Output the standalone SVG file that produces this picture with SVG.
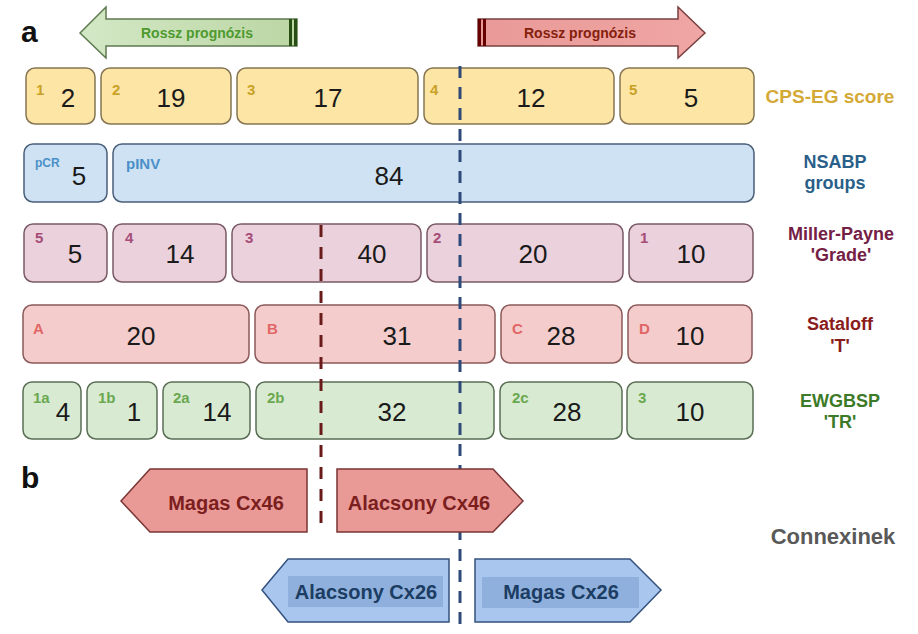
<svg xmlns="http://www.w3.org/2000/svg" width="918" height="634" viewBox="0 0 918 634">
<style>
text{font-family:"Liberation Sans",Arial,sans-serif}
.num{font-size:26px;fill:#1a1a1a;text-anchor:middle}
.sm{font-size:15px;font-weight:bold}
.lab{font-size:18px;font-weight:bold;text-anchor:middle}
.y rect{fill:#fde5a5;stroke:#857552;stroke-width:1.5}
.bl rect{fill:#cfe2f3;stroke:#4a5f7a;stroke-width:1.5}
.pk rect{fill:#ead1dc;stroke:#7a5a65;stroke-width:1.5}
.rd rect{fill:#f4cccc;stroke:#8a5a5a;stroke-width:1.5}
.gr rect{fill:#d9ead3;stroke:#5a6e55;stroke-width:1.5}
.y .sm{fill:#c9a227}.bl .sm{fill:#4a90c8}.pk .sm{fill:#a64d79}.rd .sm{fill:#e06666}.gr .sm{fill:#6aa84f}
.ar{font-size:20px;font-weight:bold;text-anchor:middle}
.cx46{fill:#ea9a96;stroke:#7a3535;stroke-width:1.5}
.cx26{fill:#a8c6ee;stroke:#34527e;stroke-width:1.5}
.inner{fill:#8fb0dc}
</style>
<defs>
<linearGradient id="gG" x1="0" y1="0" x2="1" y2="0">
<stop offset="0" stop-color="#d3e8c6"/><stop offset="1" stop-color="#bcd6a4"/>
</linearGradient>
<linearGradient id="gR" x1="0" y1="0" x2="1" y2="0">
<stop offset="0" stop-color="#e99a98"/><stop offset="1" stop-color="#efa6a4"/>
</linearGradient>
</defs>

<text x="21" y="42" style="font-size:30px;font-weight:bold;fill:#111">a</text>
<text x="21" y="488" style="font-size:30px;font-weight:bold;fill:#111">b</text>

<g id="arrow-green">
<polygon points="80,33 106,7 106,19 297,19 297,46 106,46 106,58" fill="url(#gG)" stroke="#5d7a4f" stroke-width="1.5"/>
<rect x="289" y="19" width="3" height="27" fill="#274e13"/>
<rect x="294" y="19" width="3" height="27" fill="#274e13"/>
<text x="197" y="38" style="font-size:14px;font-weight:bold;fill:#4e9a2e;text-anchor:middle">Rossz prognózis</text>
</g>
<g id="arrow-red">
<polygon points="478,19 678,19 678,7 705,33 678,58 678,46 478,46" fill="url(#gR)" stroke="#7a4040" stroke-width="1.5"/>
<rect x="478" y="19" width="3" height="27" fill="#660000"/>
<rect x="483" y="19" width="3" height="27" fill="#660000"/>
<text x="580" y="38" style="font-size:14px;font-weight:bold;fill:#85200c;text-anchor:middle">Rossz prognózis</text>
</g>

<g id="row-cpseg" class="y">
<rect x="26" y="68" width="69" height="56" rx="9"/>
<rect x="101" y="68" width="130" height="56" rx="9"/>
<rect x="237" y="68" width="181" height="56" rx="9"/>
<rect x="424" y="68" width="190" height="56" rx="9"/>
<rect x="620" y="68" width="134" height="56" rx="9"/>
<text class="sm" x="36" y="95">1</text><text class="num" x="68" y="107">2</text>
<text class="sm" x="112" y="95">2</text><text class="num" x="171" y="107">19</text>
<text class="sm" x="247" y="95">3</text><text class="num" x="328" y="107">17</text>
<text class="sm" x="430" y="95">4</text><text class="num" x="531" y="107">12</text>
<text class="sm" x="629" y="95">5</text><text class="num" x="691" y="107">5</text>
<text class="lab" x="830" y="103" style="font-size:19px;fill:#d4a935">CPS-EG score</text>
</g>

<g id="row-nsabp" class="bl">
<rect x="24" y="144" width="83" height="58" rx="9"/>
<rect x="113" y="144" width="641" height="58" rx="9"/>
<text class="sm" x="35" y="167" style="font-size:12px">pCR</text><text class="num" x="79" y="185">5</text>
<text class="sm" x="126" y="169" style="font-size:15px">pINV</text><text class="num" x="389" y="185">84</text>
<text class="lab" x="835" y="168" style="fill:#2a5f8a">NSABP</text>
<text class="lab" x="835" y="189" style="fill:#2a5f8a">groups</text>
</g>

<g id="row-millerpayne" class="pk">
<rect x="24" y="224" width="83" height="58" rx="9"/>
<rect x="113" y="224" width="113" height="58" rx="9"/>
<rect x="232" y="224" width="189" height="58" rx="9"/>
<rect x="427" y="224" width="196" height="58" rx="9"/>
<rect x="629" y="224" width="124" height="58" rx="9"/>
<text class="sm" x="35" y="243">5</text><text class="num" x="75" y="263">5</text>
<text class="sm" x="125" y="243">4</text><text class="num" x="180" y="263">14</text>
<text class="sm" x="245" y="243">3</text><text class="num" x="372" y="263">40</text>
<text class="sm" x="433" y="243">2</text><text class="num" x="533" y="263">20</text>
<text class="sm" x="640" y="243">1</text><text class="num" x="691" y="263">10</text>
<text class="lab" x="841" y="240" style="fill:#742046">Miller-Payne</text>
<text class="lab" x="841" y="261" style="fill:#742046">'Grade'</text>
</g>

<g id="row-sataloff" class="rd">
<rect x="23" y="305" width="226" height="58" rx="9"/>
<rect x="255" y="305" width="240" height="58" rx="9"/>
<rect x="501" y="305" width="121" height="58" rx="9"/>
<rect x="628" y="305" width="124" height="58" rx="9"/>
<text class="sm" x="33" y="334">A</text><text class="num" x="141" y="345">20</text>
<text class="sm" x="267" y="334">B</text><text class="num" x="397" y="345">31</text>
<text class="sm" x="512" y="334">C</text><text class="num" x="561" y="345">28</text>
<text class="sm" x="639" y="334">D</text><text class="num" x="690" y="345">10</text>
<text class="lab" x="840" y="330" style="fill:#8a1c1c">Sataloff</text>
<text class="lab" x="840" y="352" style="fill:#8a1c1c">'T'</text>
</g>

<g id="row-ewgbsp" class="gr">
<rect x="23" y="382" width="58" height="57" rx="9"/>
<rect x="87" y="382" width="70" height="57" rx="9"/>
<rect x="163" y="382" width="87" height="57" rx="9"/>
<rect x="256" y="382" width="238" height="57" rx="9"/>
<rect x="500" y="382" width="122" height="57" rx="9"/>
<rect x="627" y="382" width="126" height="57" rx="9"/>
<text class="sm" x="33" y="403">1a</text><text class="num" x="63" y="421">4</text>
<text class="sm" x="98" y="403">1b</text><text class="num" x="134" y="421">1</text>
<text class="sm" x="173" y="403">2a</text><text class="num" x="217" y="421">14</text>
<text class="sm" x="267" y="403">2b</text><text class="num" x="392" y="421">32</text>
<text class="sm" x="512" y="403">2c</text><text class="num" x="567" y="421">28</text>
<text class="sm" x="638" y="403">3</text><text class="num" x="690" y="421">10</text>
<text class="lab" x="840" y="407" style="fill:#3c7a28">EWGBSP</text>
<text class="lab" x="840" y="428" style="fill:#3c7a28">'TR'</text>
</g>

<g id="connectors">
<line x1="460" y1="66" x2="460" y2="625" stroke="#2f4a78" stroke-width="3" stroke-dasharray="12 9"/>
<line x1="321" y1="225" x2="321" y2="533" stroke="#6b1a1a" stroke-width="3" stroke-dasharray="12 10"/>
</g>

<g id="magas-cx46">
<polygon class="cx46" points="121,501 150,469 307,469 307,532 150,532"/>
<text class="ar" x="226" y="510" style="fill:#7b1e1e">Magas Cx46</text>
</g>
<g id="alacsony-cx46">
<polygon class="cx46" points="337,469 493,469 523,501 493,532 337,532"/>
<text class="ar" x="419" y="510" style="fill:#7b1e1e">Alacsony Cx46</text>
</g>
<g id="alacsony-cx26">
<polygon class="cx26" points="262,590 288,559 449,559 449,622 288,622"/>
<rect class="inner" x="288" y="576" width="155" height="31"/>
<text class="ar" x="366" y="599" style="fill:#1c3d63">Alacsony Cx26</text>
</g>
<g id="magas-cx26">
<polygon class="cx26" points="475,559 630,559 661,590 630,622 475,622"/>
<rect class="inner" x="482" y="577" width="157" height="31"/>
<text class="ar" x="561" y="599" style="fill:#1c3d63">Magas Cx26</text>
</g>

<text x="833" y="544" style="font-size:22px;font-weight:bold;fill:#595959;text-anchor:middle">Connexinek</text>
</svg>
